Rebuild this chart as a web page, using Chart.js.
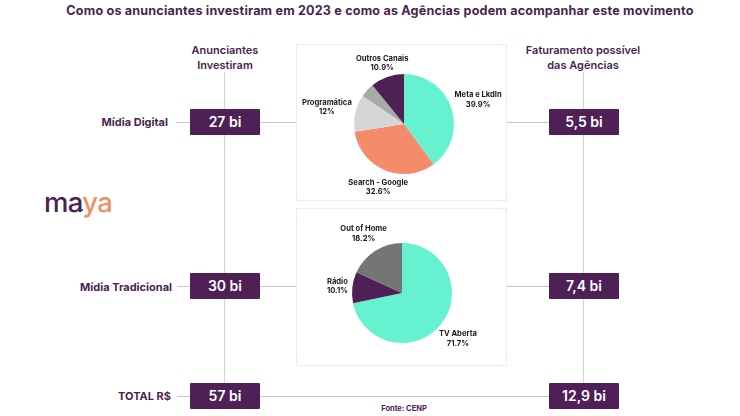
<!DOCTYPE html>
<html lang="pt-BR">
<head>
<meta charset="utf-8">
<title>Investimento em mídia 2023</title>
<script src="https://cdn.jsdelivr.net/npm/chart.js@4/dist/chart.umd.min.js"></script>
<style>
  html, body { margin: 0; padding: 0; background: #fff; }
  #page { position: relative; width: 740px; height: 416px; overflow: hidden; font-family: Inter, sans-serif; color: #4a1f52; }
  #page div, #page canvas { position: absolute; }
  .title { left: 0; width: 760px; top: 3px; text-align: center; font-size: 12.6px; font-weight: 700; letter-spacing: 0.18px; white-space: nowrap; }
  .head { text-align: center; font-size: 11px; font-weight: 600; line-height: 14.5px; white-space: nowrap; }
  .row { text-align: right; font-size: 11px; font-weight: 700; white-space: nowrap; line-height: 14px; }
  .box { background: #4f2056; color: #fff; width: 70px; height: 26px; line-height: 26px; text-align: center; font-size: 14px; font-weight: 600; border-radius: 1px; }
  .hline { height: 1px; background: #c8c8c8; }
  .vline { width: 1px; background: #d4d4d4; }
  .frame { box-sizing: border-box; border: 1px solid #f8e8e2; background: #fff; }
  .fonte { left: 340px; width: 128px; top: 404px; text-align: center; font-size: 7.5px; font-weight: 700; }
  .logo { left: 44px; top: 184px; font-size: 27.5px; line-height: 36px; font-weight: 500; letter-spacing: -0.7px; white-space: nowrap; }
  .logo span { color: #ee9068; }
  .logodot { left: 81px; top: 209px; width: 2px; height: 2px; border-radius: 50%; background: #4a1f52; }
</style>
</head>
<body>
<div id="page">
  <div class="vline" style="left:224px;top:72px;height:311px"></div>
  <div class="vline" style="left:583px;top:72px;height:311px"></div>

  <div class="hline" style="left:176px;top:122px;width:14px"></div>
  <div class="hline" style="left:260px;top:122px;width:37px"></div>
  <div class="hline" style="left:506px;top:122px;width:43px"></div>
  <div class="hline" style="left:177px;top:286px;width:13px"></div>
  <div class="hline" style="left:260px;top:286px;width:37px"></div>
  <div class="hline" style="left:506px;top:286px;width:43px"></div>
  <div class="hline" style="left:177px;top:396px;width:13px"></div>
  <div class="hline" style="left:260px;top:396px;width:289px"></div>

  <div class="frame" style="left:296px;top:44px;width:211px;height:157px"></div>
  <div class="frame" style="left:296px;top:208px;width:211px;height:158px"></div>

  <div class="title">Como os anunciantes investiram em 2023 e como as Agências podem acompanhar este movimento</div>
  <div class="head" style="left:165px;width:120px;top:43px">Anunciantes<br>Investiram</div>
  <div class="head" style="left:513px;width:140px;top:43px">Faturamento possível<br>das Agências</div>

  <div class="row" style="left:60px;width:108px;top:115px">Mídia Digital</div>
  <div class="row" style="left:40px;width:132px;top:280px">Mídia Tradicional</div>
  <div class="row" style="left:60px;width:111px;top:389px">TOTAL R$</div>

  <div class="box" style="left:190px;top:109px">27 bi</div>
  <div class="box" style="left:549px;top:109px">5,5 bi</div>
  <div class="box" style="left:190px;top:273px">30 bi</div>
  <div class="box" style="left:549px;top:273px">7,4 bi</div>
  <div class="box" style="left:190px;top:383px">57 bi</div>
  <div class="box" style="left:549px;top:383px">12,9 bi</div>

  <div class="logo">ma<span>ya</span></div>
  <div class="logodot"></div>
  <div class="fonte">Fonte: CENP</div>

  <canvas id="digital" style="left:294px;top:44px;width:220px;height:160px"></canvas>
  <canvas id="tradicional" style="left:292px;top:213px;width:220px;height:160px"></canvas>
</div>

<script>
// Share of each channel, in percent
const digital = [
  { label: 'Meta e LkdIn', value: 39.9, text: '39.9%', color: '#66f2d1', dist: 78 },
  { label: 'Search - Google', value: 32.6, text: '32.6%', color: '#f48c6c', dist: 68 },
  { label: 'Programática', value: 12, text: '12%', color: '#d6d6d6', dist: 79 },
  { label: '', value: 4.6, text: '', color: '#a9a9a9', dist: 0 },
  { label: 'Outros Canais', value: 10.9, text: '10.9%', color: '#4f2056', dist: 65 },
];

const tradicional = [
  { label: 'TV Aberta', value: 71.7, text: '71.7%', color: '#66f2d1', dist: 72 },
  { label: 'Rádio', value: 10.1, text: '10.1%', color: '#4f2056', dist: 65 },
  { label: 'Out of Home', value: 18.2, text: '18.2%', color: '#757575', dist: 71 },
];

// Two-line labels around the pie, distance comes from the slice entry
const sliceLabels = {
  id: 'sliceLabels',
  afterDatasetsDraw(chart) {
    const rows = chart.options.plugins.sliceLabels.rows;
    const c = chart.ctx;
    c.save();
    c.fillStyle = '#1d1420';
    c.font = '700 7.6px Inter, sans-serif';
    c.textAlign = 'center';
    c.textBaseline = 'middle';
    chart.getDatasetMeta(0).data.forEach((arc, i) => {
      const row = rows[i];
      if (!row.label) return;
      const mid = (arc.startAngle + arc.endAngle) / 2;
      const x = arc.x + Math.cos(mid) * row.dist;
      const y = arc.y + Math.sin(mid) * row.dist;
      c.fillText(row.label, x, y - 4.5);
      c.fillText(row.text, x, y + 5);
    });
    c.restore();
  },
};

const makePie = (id, rows) => new Chart(document.getElementById(id), {
  type: 'pie',
  data: {
    labels: rows.map((r) => r.label),
    datasets: [{
      data: rows.map((r) => r.value),
      backgroundColor: rows.map((r) => r.color),
      borderWidth: 0,
      radius: 50,
    }],
  },
  options: {
    responsive: false,
    animation: false,
    plugins: {
      legend: { display: false },
      tooltip: { enabled: false },
      sliceLabels: { rows },
    },
  },
  plugins: [sliceLabels],
});

makePie('digital', digital);
makePie('tradicional', tradicional);
</script>
</body>
</html>
